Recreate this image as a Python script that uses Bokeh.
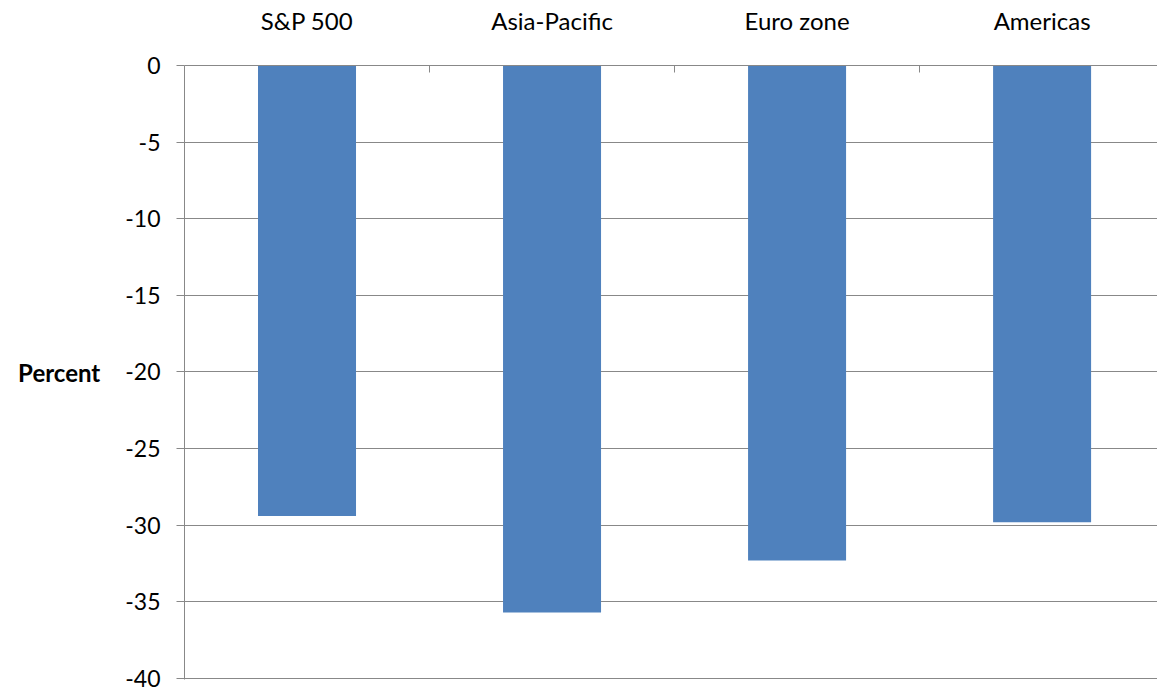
from bokeh.plotting import figure
from bokeh.models import Range1d, LinearAxis, FixedTicker
from bokeh.embed import file_html
from bokeh.resources import INLINE

# Percent change by market
categories = ["S&P 500", "Asia-Pacific", "Euro zone", "Americas"]
values = [-29.4, -35.7, -32.3, -29.8]
y_ticks = [0, -5, -10, -15, -20, -25, -30, -35, -40]
y_tick_labels = ["0", "-5", "-10", "-15", "-20", "-25", "-30", "-35", "-40"]

FONT = "Lato"
GRAY = "#888888"
BAR = "#4F81BD"

centers = [i + 0.5 for i in range(len(categories))]
bounds = [float(i) for i in range(1, len(categories))]

p = figure(
    width=1157, height=694,
    output_backend="svg", toolbar_location=None,
    x_range=Range1d(0, 3.971), y_range=Range1d(-40.07, 0),
    x_axis_location=None, y_axis_location=None,
    min_border_left=184, min_border_right=0,
    min_border_top=65, min_border_bottom=15,
)
p.outline_line_color = None
p.background_fill_color = "white"
p.border_fill_color = "white"

p.vbar(x=centers, top=0, bottom=values, width=0.4,
       fill_color=BAR, line_color=None)

# value axis on the left
yaxis = LinearAxis(ticker=FixedTicker(ticks=y_ticks))
yaxis.major_label_overrides = {t: s for t, s in zip(y_ticks, y_tick_labels)}
yaxis.axis_line_color = GRAY
yaxis.major_tick_line_color = GRAY
yaxis.major_tick_out = 8
yaxis.major_tick_in = 0
yaxis.minor_tick_line_color = None
yaxis.major_label_standoff = 16
yaxis.major_label_text_font = FONT
yaxis.major_label_text_font_size = "23px"
yaxis.major_label_text_color = "black"
yaxis.axis_label = "Percent"
yaxis.axis_label_orientation = "horizontal"
yaxis.axis_label_standoff = 22
yaxis.axis_label_text_font = FONT
yaxis.axis_label_text_font_size = "24px"
yaxis.axis_label_text_font_style = "bold"
yaxis.axis_label_text_color = "black"
p.add_layout(yaxis, "left")

# category axis along the top, ticks between categories
xaxis = LinearAxis(ticker=FixedTicker(ticks=centers, minor_ticks=bounds))
xaxis.major_label_overrides = {c: name for c, name in zip(centers, categories)}
xaxis.axis_line_color = GRAY
xaxis.major_tick_line_color = None
xaxis.minor_tick_line_color = GRAY
xaxis.minor_tick_in = 7
xaxis.minor_tick_out = 0
xaxis.major_label_standoff = 25
xaxis.major_label_text_font = FONT
xaxis.major_label_text_font_size = "24px"
xaxis.major_label_text_color = "black"
p.add_layout(xaxis, "above")

p.xgrid.grid_line_color = None
p.ygrid.ticker = FixedTicker(ticks=y_ticks)
p.ygrid.grid_line_color = GRAY
p.ygrid.grid_line_width = 1

open("out.html", "w").write(file_html(p, INLINE))
